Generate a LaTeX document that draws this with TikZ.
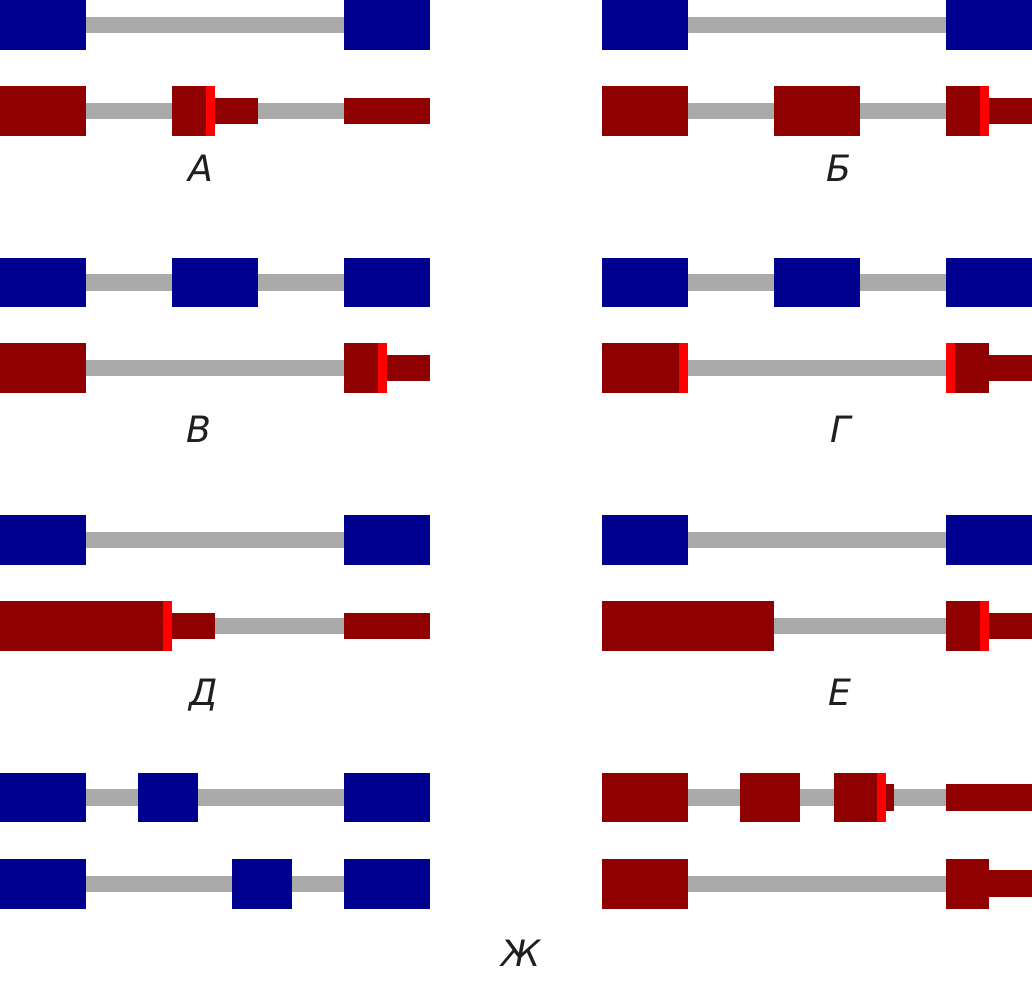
\documentclass[tikz,border=0pt]{standalone}
\usepackage{fontspec}
\setmainfont{DejaVu Sans}[ItalicFont={DejaVu Sans Oblique}]
\usepackage{tikz}
\definecolor{exblue}{RGB}{0,0,143}
\definecolor{exred}{RGB}{143,0,0}
\definecolor{exstop}{RGB}{255,0,0}
\definecolor{intgray}{RGB}{170,170,170}

\begin{document}
\begin{tikzpicture}[exB/.style={rectangle,
                                fill=exblue,
                                inner sep=0pt,
                                outer sep=0pt,
                                minimum height=5.8mm,
                                minimum width=#1,
                                anchor=west},
                    exR/.style={exB=#1, fill=exred},
                    utr/.style={exB=#1, fill=exred, minimum height=3.1mm},
                    stp/.style={exB=1mm, fill=exstop},
                    intr/.style={-, draw=intgray, line width=1.9mm},
                    lbl/.style={anchor=base, font=\itshape\fontsize{12}{14}\selectfont,
                                text=black!88}]
            \useasboundingbox (0,0) rectangle (12,-11.477);
            % A
            \node[exB=10mm](a1) at (0,-0.291)   {};
            \node[exB=10mm](a2) at (4,-0.291)   {};
            \node[exR=10mm](a3) at (0,-1.291)   {};
            \node[exR=4mm] (a4) at (2,-1.291)   {};
            \node[stp]     (a5) at (2.4,-1.291) {};
            \node[utr=5mm] (a6) at (2.5,-1.291) {};
            \node[utr=10mm](a7) at (4,-1.291)   {};
            \node[lbl]     (la) at (2.34,-2.105) {А};
            % B
            \node[exB=10mm](b1) at (7,-0.291)    {};
            \node[exB=10mm](b2) at (11,-0.291)   {};
            \node[exR=10mm](b3) at (7,-1.291)    {};
            \node[exR=10mm](b4) at (9,-1.291)    {};
            \node[exR=4mm] (b5) at (11,-1.291)   {};
            \node[stp]     (b6) at (11.4,-1.291) {};
            \node[utr=5mm] (b7) at (11.5,-1.291) {};
            \node[lbl]     (lb) at (9.75,-2.105) {Б};
            % V
            \node[exB=10mm](v1) at (0,-3.285)   {};
            \node[exB=10mm](v2) at (2,-3.285)   {};
            \node[exB=10mm](v3) at (4,-3.285)   {};
            \node[exR=10mm](v4) at (0,-4.279)   {};
            \node[exR=4mm] (v5) at (4,-4.279)   {};
            \node[stp]     (v6) at (4.4,-4.279) {};
            \node[utr=5mm] (v7) at (4.5,-4.279) {};
            \node[lbl]     (lv) at (2.31,-5.151) {В};
            % G
            \node[exB=10mm](g1) at (7,-3.285)    {};
            \node[exB=10mm](g2) at (9,-3.285)    {};
            \node[exB=10mm](g3) at (11,-3.285)   {};
            \node[exR=9mm] (g4) at (7,-4.279)    {};
            \node[stp]     (g5) at (7.9,-4.279)  {};
            \node[stp]     (g6) at (11,-4.279)   {};
            \node[exR=4mm] (g7) at (11.1,-4.279) {};
            \node[utr=5mm] (g8) at (11.5,-4.279) {};
            \node[lbl]     (lg) at (9.77,-5.151) {Г};
            % D
            \node[exB=10mm](d1) at (0,-6.279)   {};
            \node[exB=10mm](d2) at (4,-6.279)   {};
            \node[exR=19mm](d3) at (0,-7.279)   {};
            \node[stp]     (d4) at (1.9,-7.279) {};
            \node[utr=5mm] (d5) at (2,-7.279)   {};
            \node[utr=10mm](d6) at (4,-7.279)   {};
            \node[lbl]     (ld) at (2.37,-8.209) {Д};
            % E
            \node[exB=10mm](e1) at (7,-6.279)    {};
            \node[exB=10mm](e2) at (11,-6.279)   {};
            \node[exR=20mm](e3) at (7,-7.279)    {};
            \node[exR=4mm] (e4) at (11,-7.279)   {};
            \node[stp]     (e5) at (11.4,-7.279) {};
            \node[utr=5mm] (e6) at (11.5,-7.279) {};
            \node[lbl]     (le) at (9.77,-8.209) {Е};
            % Zh, left
            \node[exB=10mm](z1) at (0,-9.273)    {};
            \node[exB=7mm] (z2) at (1.6,-9.273)  {};
            \node[exB=10mm](z3) at (4,-9.273)    {};
            \node[exB=10mm](z4) at (0,-10.276)   {};
            \node[exB=7mm] (z5) at (2.7,-10.276) {};
            \node[exB=10mm](z6) at (4,-10.276)   {};
            % Zh, right
            \node[exR=10mm](w1) at (7,-9.273)     {};
            \node[exR=7mm] (w2) at (8.6,-9.273)   {};
            \node[exR=5mm] (w3) at (9.7,-9.273)   {};
            \node[stp]     (w4) at (10.2,-9.273)  {};
            \node[utr=1mm] (w5) at (10.3,-9.273)  {};
            \node[utr=10mm](w6) at (11,-9.273)    {};
            \node[exR=10mm](w7) at (7,-10.276)    {};
            \node[exR=5mm] (w8) at (11,-10.276)   {};
            \node[utr=5mm] (w9) at (11.5,-10.276) {};
            \node[lbl]     (lz) at (6.06,-11.244) {Ж};
            \path
                (a1) edge [intr] (a2)
                (a3) edge [intr] (a4)
                (a6) edge [intr] (a7)
                (b1) edge [intr] (b2)
                (b3) edge [intr] (b4)
                (b4) edge [intr] (b5)
                (v1) edge [intr] (v2)
                (v2) edge [intr] (v3)
                (v4) edge [intr] (v5)
                (g1) edge [intr] (g2)
                (g2) edge [intr] (g3)
                (g5) edge [intr] (g6)
                (d1) edge [intr] (d2)
                (d5) edge [intr] (d6)
                (e1) edge [intr] (e2)
                (e3) edge [intr] (e4)
                (z1) edge [intr] (z2)
                (z2) edge [intr] (z3)
                (z4) edge [intr] (z5)
                (z5) edge [intr] (z6)
                (w1) edge [intr] (w2)
                (w2) edge [intr] (w3)
                (w5) edge [intr] (w6)
                (w7) edge [intr] (w8)
                ;
        \end{tikzpicture}
\end{document}
